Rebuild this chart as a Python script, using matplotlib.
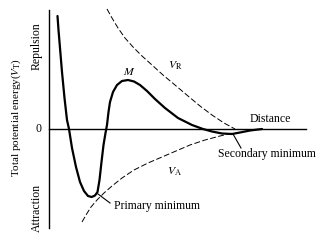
import matplotlib
matplotlib.use("Agg")
import matplotlib.pyplot as plt

# Schematic curves (x: distance, y: energy; pixel-like units, y downward)
vt_x = [57.5, 58.5, 60, 62, 64.5, 67, 69, 72, 76, 80, 84, 88, 91.7, 95, 97.5, 99.5, 101.5, 103.5, 105.5, 107, 108.5, 110, 113, 117, 122, 128, 134, 140, 147, 155, 165, 178, 192, 203, 212, 222, 232, 240, 250, 262]
vt_y = [16, 30, 48, 72, 98, 120, 129, 148, 167, 182, 191, 196, 197, 195.5, 192, 180, 162, 145, 133, 125, 112, 102, 92, 85, 81, 80, 81.5, 85, 91, 99, 108, 118, 125, 129, 131.5, 133.5, 134, 132.5, 130.5, 129]

vr_x = [107, 112, 118, 125, 133, 142, 152, 163, 175, 188, 200, 212, 224, 235]
vr_y = [9, 18, 28, 38, 47, 56, 65, 75, 85, 96, 106, 115, 123, 129]

va_x = [82, 86, 91, 97, 104, 112, 122, 134, 148, 162, 176, 190, 205, 220, 233]
va_y = [222, 215, 207, 200, 193, 186, 178, 170, 163, 157, 151, 145, 140, 136, 133]

axis_x = [49, 49]
axis_y = [10, 228]
zero_x = [49, 306]
zero_y = [129, 129]

lead1_x = [98, 110]
lead1_y = [194, 203]
lead2_x = [233, 241]
lead2_y = [134, 148]

plt.rcParams['font.family'] = ['Liberation Serif', 'DejaVu Serif']
plt.rcParams['mathtext.fontset'] = 'stix'

fig = plt.figure(figsize=(3.2, 2.44), dpi=100)
ax = fig.add_axes([0, 0, 1, 1])
ax.set_xlim(0, 320)
ax.set_ylim(244, 0)
ax.axis('off')

ax.plot(axis_x, axis_y, color='black', lw=1.0)
ax.plot(zero_x, zero_y, color='black', lw=1.0)
ax.plot(vr_x, vr_y, color='black', lw=0.7, ls=(0, (6, 2.5)))
ax.plot(va_x, va_y, color='black', lw=0.7, ls=(0, (6, 2.5)))
ax.plot(vt_x, vt_y, color='black', lw=1.6, solid_capstyle='round')
ax.plot(lead1_x, lead1_y, color='black', lw=0.8)
ax.plot(lead2_x, lead2_y, color='black', lw=0.8)

fs = 8.5
ax.text(16, 117, r'Total potential energy($V_{\mathrm{T}}$)', rotation=90, ha='center', va='center', fontsize=8)
ax.text(37, 46, 'Repulsion', rotation=90, ha='center', va='center', fontsize=fs)
ax.text(37, 208, 'Attraction', rotation=90, ha='center', va='center', fontsize=fs)
ax.text(38, 129, '0', ha='center', va='center', fontsize=fs)
ax.text(129, 72, r'$M$', ha='center', va='center', fontsize=fs)
ax.text(175, 66, r'$V_{\mathrm{R}}$', ha='center', va='center', fontsize=fs)
ax.text(175, 172, r'$V_{\mathrm{A}}$', ha='center', va='center', fontsize=fs)
ax.text(250, 119, 'Distance', ha='left', va='center', fontsize=fs)
ax.text(218, 154, 'Secondary minimum', ha='left', va='center', fontsize=fs)
ax.text(114, 206, 'Primary minimum', ha='left', va='center', fontsize=fs)

fig.savefig('out.png', dpi=100)
